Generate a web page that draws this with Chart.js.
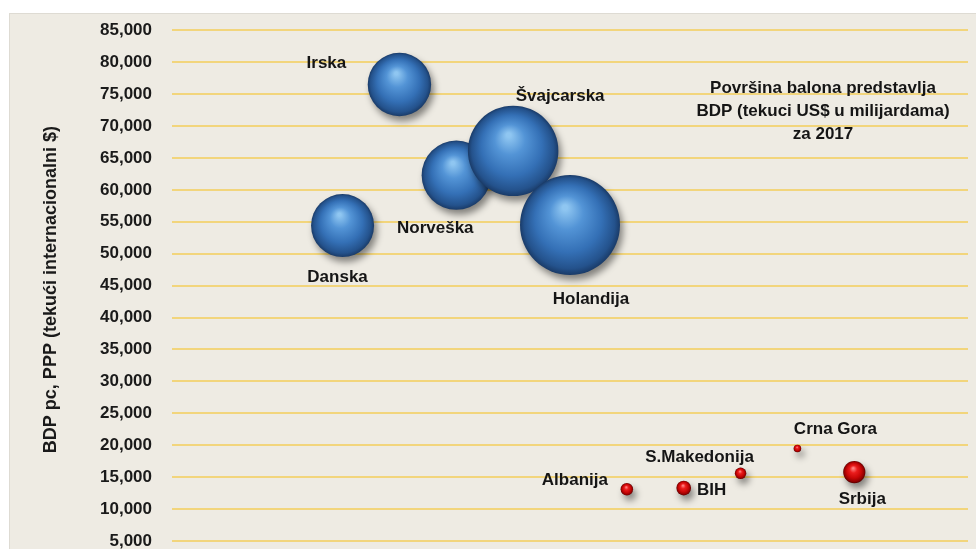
<!DOCTYPE html>
<html>
<head>
<meta charset="utf-8">
<script src="https://cdn.jsdelivr.net/npm/chart.js@4.4.1/dist/chart.umd.min.js"></script>
<style>
  html, body { margin: 0; padding: 0; background: #fff; overflow: hidden; }
  #wrap { width: 976px; height: 549px; }
</style>
</head>
<body>
<div id="wrap"><canvas id="bubbles" width="976" height="549"></canvas></div>
<script>
// zapadne zemlje (plavi baloni)
const westCountries = ['Danska', 'Irska', 'Norveška', 'Švajcarska', 'Holandija'];
const westX = [3, 4, 5, 6, 7];
const westGdpPc = [54400, 76500, 62300, 66100, 54500];
const westGdp = [330, 334, 399, 680, 830];

// zapadni Balkan (crveni baloni)
const balkanCountries = ['Albanija', 'BIH', 'S.Makedonija', 'Crna Gora', 'Srbija'];
const balkanX = [8, 9, 10, 11, 12];
const balkanGdpPc = [13100, 13300, 15600, 19500, 15800];
const balkanGdp = [13, 18, 11, 4.8, 41];

const yTicks = [5000, 10000, 15000, 20000, 25000, 30000, 35000, 40000, 45000,
                50000, 55000, 60000, 65000, 70000, 75000, 80000, 85000];
const yTitle = 'BDP pc, PPP (tekući internacionalni $)';
const noteLines = ['Površina balona predstavlja', 'BDP (tekuci US$ u milijardama)', 'za 2017'];

// pomeraj natpisa od centra balona (px)
const labelOffsets = {
    'Danska': [-5, 52], 'Irska': [-73, -21], 'Norveška': [-21, 53],
    'Švajcarska': [47, -55], 'Holandija': [21, 74],
    'Albanija': [-52, -9], 'BIH': [28, 2], 'S.Makedonija': [-41, -16],
    'Crna Gora': [38, -19], 'Srbija': [8, 27]
};

const RADIUS_K = 1.735;
const blueStops = ['#8fc6f1', '#5394d6', '#3470b6', '#24528c', '#1a3b68'];
const redStops = ['#ff8080', '#ea1c1c', '#c80606', '#8e0000', '#560000'];

function toPoints(xs, ys, sizes, names) {
    return xs.map((x, i) => ({ x: x, y: ys[i], gdp: sizes[i], name: names[i] }));
}

function radiusOf(ctx) {
    return RADIUS_K * Math.sqrt(ctx.raw.gdp);
}

function sphere(stops) {
    return function (ctx) {
        const chart = ctx.chart;
        if (!chart.chartArea || !ctx.raw) return stops[2];
        const x = chart.scales.x.getPixelForValue(ctx.raw.x);
        const y = chart.scales.y.getPixelForValue(ctx.raw.y);
        const r = radiusOf(ctx);
        const g = chart.ctx.createRadialGradient(x - r * 0.1, y - r * 0.35, r * 0.05, x, y, r);
        g.addColorStop(0, stops[0]);
        g.addColorStop(0.3, stops[1]);
        g.addColorStop(0.65, stops[2]);
        g.addColorStop(0.9, stops[3]);
        g.addColorStop(1, stops[4]);
        return g;
    };
}

const backgroundPlugin = {
    id: 'background',
    beforeDraw(chart) {
        const c = chart.ctx;
        c.save();
        c.fillStyle = '#ffffff';
        c.fillRect(0, 0, chart.width, chart.height);
        c.fillStyle = '#eeebe3';
        c.fillRect(9, 13, chart.width - 9, chart.height - 13);
        c.strokeStyle = '#dedbd3';
        c.lineWidth = 1;
        c.strokeRect(9.5, 13.5, chart.width, chart.height);
        c.restore();
    }
};

const shadowPlugin = {
    id: 'ballShadow',
    beforeDatasetDraw(chart) {
        const c = chart.ctx;
        c.save();
        c.shadowColor = 'rgba(0,0,0,0.45)';
        c.shadowBlur = 7;
        c.shadowOffsetX = 3;
        c.shadowOffsetY = 5;
    },
    afterDatasetDraw(chart) {
        chart.ctx.restore();
    }
};

const labelPlugin = {
    id: 'ballLabels',
    afterDraw(chart) {
        const c = chart.ctx;
        c.save();
        c.font = 'bold 17px "Liberation Sans", Arial, sans-serif';
        c.fillStyle = '#151515';
        c.textAlign = 'center';
        c.textBaseline = 'middle';
        chart.data.datasets.forEach((ds, di) => {
            const meta = chart.getDatasetMeta(di);
            meta.data.forEach((el, i) => {
                const name = ds.data[i].name;
                const off = labelOffsets[name] || [0, 0];
                c.fillText(name, el.x + off[0], el.y + off[1]);
            });
        });
        // napomena o povrsini balona
        const area = chart.chartArea;
        const nx = area.right - 145;
        let ny = area.top + 58;
        noteLines.forEach(line => {
            c.fillText(line, nx, ny);
            ny += 23;
        });
        c.restore();
    }
};

new Chart(document.getElementById('bubbles'), {
    type: 'bubble',
    data: {
        datasets: [{
            label: 'Zapad',
            data: toPoints(westX, westGdpPc, westGdp, westCountries),
            radius: radiusOf,
            backgroundColor: sphere(blueStops),
            borderWidth: 0
        }, {
            label: 'Zapadni Balkan',
            data: toPoints(balkanX, balkanGdpPc, balkanGdp, balkanCountries),
            radius: radiusOf,
            backgroundColor: sphere(redStops),
            borderWidth: 0
        }]
    },
    options: {
        responsive: false,
        animation: false,
        events: [],
        layout: { autoPadding: false, padding: { left: 37, top: 29, right: 8, bottom: 0 } },
        plugins: {
            legend: { display: false },
            tooltip: { enabled: false }
        },
        scales: {
            x: { type: 'linear', min: 0, max: 14, display: false },
            y: {
                min: 3750,
                max: 85000,
                afterBuildTicks(scale) {
                    scale.ticks = yTicks.map(v => ({ value: v }));
                },
                afterFit(scale) {
                    scale.width = 135;
                    scale.paddingBottom = 0;
                },
                border: { display: false },
                grid: { color: '#f2d57c', lineWidth: 2, drawTicks: false },
                ticks: {
                    padding: 20,
                    color: '#1a1a1a',
                    font: { family: '"Liberation Sans", Arial, sans-serif', size: 17, weight: 'bold' },
                    callback: v => v.toLocaleString('en-US')
                },
                title: {
                    display: true,
                    text: yTitle,
                    color: '#1a1a1a',
                    font: { family: '"Liberation Sans", Arial, sans-serif', size: 18, weight: 'bold' },
                    padding: { top: 3, bottom: 3 }
                }
            }
        }
    },
    plugins: [backgroundPlugin, shadowPlugin, labelPlugin]
});
</script>
</body>
</html>
